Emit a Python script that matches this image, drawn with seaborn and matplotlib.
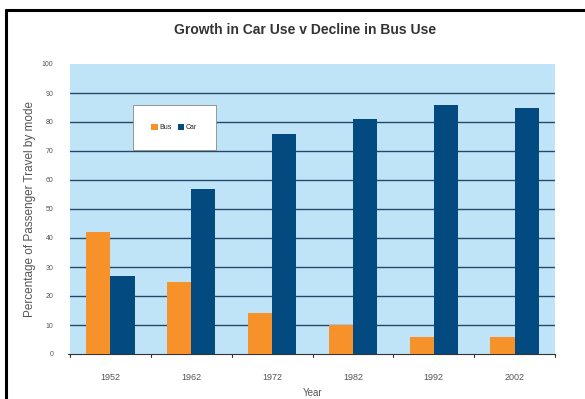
import pandas as pd
import seaborn as sns
import matplotlib.pyplot as plt
from matplotlib.lines import Line2D

years = ['1952', '1962', '1972', '1982', '1992', '2002']
bus = [42, 25, 14, 10, 6, 6]
car = [27, 57, 76, 81, 86, 85]

df = pd.DataFrame({
    'Year': years * 2,
    'value': bus + car,
    'mode': ['Bus'] * len(years) + ['Car'] * len(years),
})

sns.set_style('white')
plt.rcParams['font.family'] = ['Liberation Sans', 'DejaVu Sans']

fig = plt.figure(figsize=(5.85, 3.99), dpi=100)
ax = fig.add_axes([70 / 585, 1 - 354 / 399, 485 / 585, 290 / 399])
ax.set_facecolor('#bfe4f8')

sns.barplot(data=df, x='Year', y='value', hue='mode',
            palette={'Bus': '#f7922a', 'Car': '#034a80'},
            width=0.6, saturation=1, linewidth=0, edgecolor='none',
            ax=ax, zorder=3)

ax.set_ylim(0, 100)
ax.set_yticks(range(0, 101, 10))
for y in range(10, 100, 10):
    ax.axhline(y, color='#24476a', linewidth=1.0, zorder=1)
ax.tick_params(axis='x', labelsize=6.5, colors='#555555', length=0, pad=14)
ax.tick_params(axis='y', labelsize=5, colors='#555555', length=0, pad=12)
ax.set_xlabel('Year', fontsize=7, color='#555555', labelpad=4)
ax.set_ylabel('Percentage of Passenger Travel by mode', fontsize=8.5,
              color='#555555', labelpad=4)
for s in ['top', 'right', 'left']:
    ax.spines[s].set_visible(False)
ax.spines['bottom'].set_color('#333333')
ax.spines['bottom'].set_linewidth(0.8)
ax.set_xlim(-0.5, len(years) - 0.5)
# tick marks between the groups
for i in range(len(years) + 1):
    ax.plot([i - 0.5, i - 0.5], [0, -1.2], color='#333333', lw=0.8,
            clip_on=False, zorder=4)
ax.plot([-0.53, -0.5], [0, 0], color='#333333', lw=0.8, clip_on=False)

leg = ax.legend(loc='center', bbox_to_anchor=(0.215, 0.78), ncol=2,
                fontsize=5, frameon=True, fancybox=False, borderpad=2.7,
                handlelength=0.9, handleheight=0.9, columnspacing=0.8,
                handletextpad=0.3)
leg.get_frame().set_edgecolor('#888888')
leg.get_frame().set_linewidth(0.6)
leg.get_frame().set_facecolor('white')
leg.get_frame().set_alpha(1)

fig.text(305 / 585, 1 - 30 / 399, 'Growth in Car Use v Decline in Bus Use',
         ha='center', va='center', fontsize=10, fontweight='bold',
         color='#333333')

# outer chart frame (top and left edges visible)
fig.add_artist(Line2D([6 / 585, 1], [1 - 10 / 399, 1 - 10 / 399],
                      transform=fig.transFigure, color='black', lw=2.2))
fig.add_artist(Line2D([6 / 585, 6 / 585], [0, 1 - 10 / 399],
                      transform=fig.transFigure, color='black', lw=2.2))

fig.savefig('out.png', dpi=100)
